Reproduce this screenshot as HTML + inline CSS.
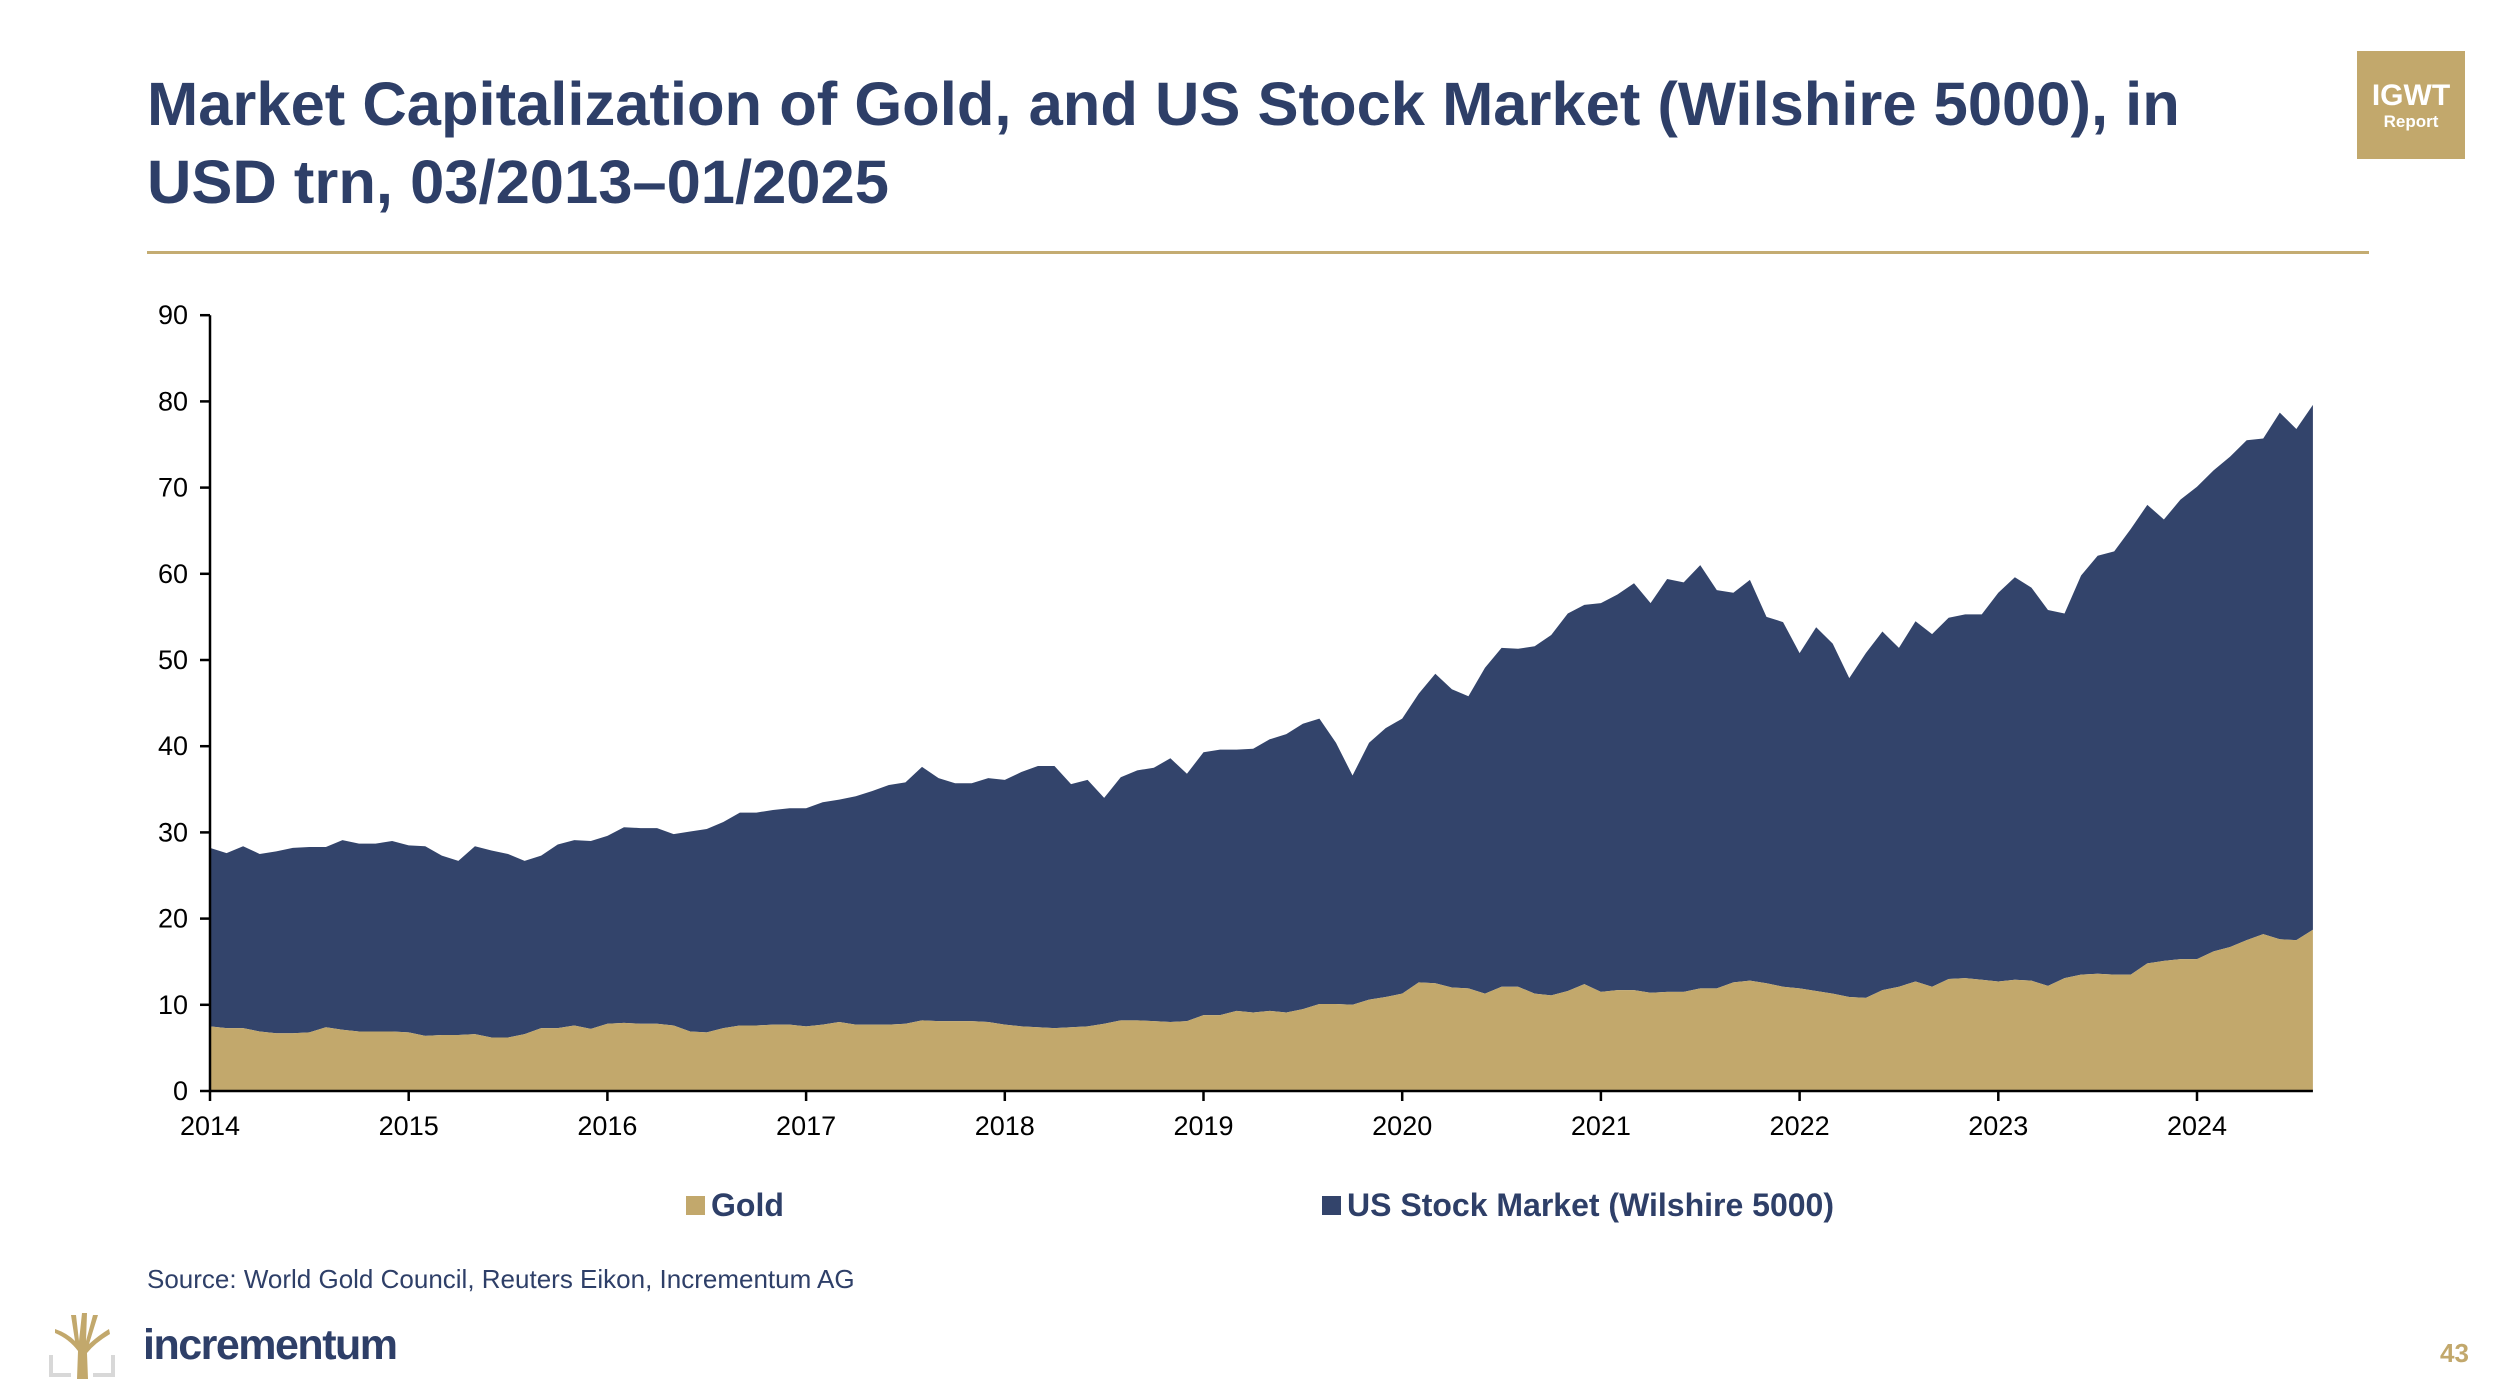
<!DOCTYPE html>
<html><head><meta charset="utf-8">
<style>
html,body{margin:0;padding:0;background:#fff;}
body{width:2500px;height:1397px;position:relative;overflow:hidden;font-family:"Liberation Sans",Arial,sans-serif;}
.abs{position:absolute;}
</style></head>
<body>
<div class="abs" style="left:147px;top:66px;width:2090px;font-size:61.5px;font-weight:bold;color:#2e3f68;line-height:78px;">Market Capitalization of Gold, and US Stock Market (Wilshire 5000), in USD trn, 03/2013–01/2025</div>
<div class="abs" style="left:147px;top:251px;width:2222px;height:3px;background:#c4ac72;"></div>
<div class="abs" style="left:2357px;top:51px;width:108px;height:108px;background:#c2a86c;color:#fff;text-align:center;">
  <div style="font-weight:bold;font-size:30px;margin-top:30px;line-height:30px;">IGWT</div>
  <div style="font-weight:bold;font-size:17px;line-height:22px;">Report</div>
</div>
<svg class="abs" style="left:0;top:0" width="2500" height="1397">
  <g id="plot"></g>
</svg>
<div class="abs" style="left:147px;top:1264px;font-size:26px;color:#2e3f68;">Source: World Gold Council, Reuters Eikon, Incrementum AG</div>
<svg class="abs" style="left:49px;top:1311px" width="66" height="68">
  <path d="M28 68 L29 40 Q20 28 6 22 L6 18 Q18 22 26 30 L22 4 L27 4 L30 30 L33 2 L38 2 L37 30 L44 4 L49 4 L40 33 Q50 24 60 18 L61 23 Q46 32 38 42 L39 68 Z" fill="#c2a86c"/>
  <path d="M0 44 L0 66 L22 66 L22 62 L4 62 L4 44 Z M66 44 L66 66 L44 66 L44 62 L62 62 L62 44 Z" fill="#d8d8d8"/>
</svg>
<div class="abs" style="left:143px;top:1321px;font-size:43px;font-weight:bold;color:#2e3f68;letter-spacing:-1.5px;">incrementum</div>
<div class="abs" style="left:2440px;top:1338px;font-size:26px;font-weight:bold;color:#c2a86c;">43</div>
<script>
const yTicks=[0,10,20,30,40,50,60,70,80,90];
const xYears=[2014,2015,2016,2017,2018,2019,2020,2021,2022,2023,2024];
const gold=[7.5,7.3,7.3,6.9,6.7,6.7,6.8,7.4,7.1,6.9,6.9,6.9,
6.8,6.4,6.5,6.5,6.6,6.2,6.2,6.6,7.3,7.3,7.6,7.2,
7.8,7.9,7.8,7.8,7.6,6.9,6.8,7.3,7.6,7.6,7.7,7.7,
7.5,7.7,8.0,7.7,7.7,7.7,7.8,8.2,8.1,8.1,8.1,8.0,
7.7,7.5,7.4,7.3,7.4,7.5,7.8,8.2,8.2,8.1,8.0,8.1,
8.8,8.8,9.3,9.1,9.3,9.1,9.5,10.1,10.1,10.0,10.6,10.9,
11.3,12.6,12.5,12.0,11.9,11.3,12.1,12.1,11.3,11.1,11.6,12.4,
11.5,11.7,11.7,11.4,11.5,11.5,11.9,11.9,12.6,12.8,12.5,12.1,
11.9,11.6,11.3,10.9,10.8,11.7,12.1,12.7,12.1,13.0,13.1,12.9,
12.7,12.9,12.8,12.2,13.1,13.5,13.6,13.5,13.5,14.8,15.1,15.3,
15.3,16.2,16.7,17.5,18.2,17.6,17.5,18.7];
const stock=[20.7,20.3,21.1,20.6,21.1,21.5,21.5,20.9,22.0,21.8,21.8,22.1,
21.7,22.0,20.8,20.2,21.8,21.7,21.3,20.1,20.0,21.3,21.5,21.8,
21.8,22.7,22.7,22.7,22.2,23.2,23.6,23.9,24.7,24.7,24.9,25.1,
25.3,25.8,25.8,26.5,27.1,27.8,28.0,29.4,28.2,27.6,27.6,28.3,
28.4,29.5,30.3,30.4,28.2,28.6,26.2,28.2,29.0,29.4,30.6,28.7,
30.5,30.8,30.3,30.6,31.5,32.3,33.1,33.1,30.3,26.6,29.8,31.2,
31.9,33.5,35.9,34.6,33.9,37.8,39.3,39.2,40.3,41.8,43.8,44.0,
45.1,45.9,47.2,45.2,47.9,47.5,49.1,46.2,45.2,46.5,42.5,42.3,
38.9,42.2,40.6,37.0,40.0,41.6,39.3,41.8,40.9,41.9,42.2,42.4,
45.1,46.7,45.6,43.6,42.3,46.3,48.5,49.1,51.7,53.2,51.2,53.3,
54.8,55.8,56.9,58.0,57.5,61.1,59.3,60.9];
const startYear=2014;

(function(){
const NS='http://www.w3.org/2000/svg';
const g=document.getElementById('plot');
const X0=210,PX_YEAR=198.7,Y0=1091,PX_UNIT=8.62;
const xs=i=>X0+(i/12)*PX_YEAR;
const xy=yr=>X0+(yr-startYear)*PX_YEAR;
const ys=v=>Y0-v*PX_UNIT;
function mk(tag,attrs){const e=document.createElementNS(NS,tag);for(const k in attrs)e.setAttribute(k,attrs[k]);g.appendChild(e);return e;}

const upper=[],lower=[];
for(let i=0;i<gold.length;i++){upper.push(xs(i)+','+ys(gold[i]+stock[i]));lower.push(xs(i)+','+ys(gold[i]));}
const sa=mk('polygon',{points:upper.concat(lower.slice().reverse()).join(' '),fill:'#33446b'});


const gp=[];
for(let i=0;i<gold.length;i++)gp.push(xs(i)+','+ys(gold[i]));
gp.push(xs(gold.length-1)+','+ys(0));gp.push(xs(0)+','+ys(0));
const ga=mk('polygon',{points:gp.join(' '),fill:'#c2a86c'});



const ya=mk('line',{x1:X0,y1:ys(90),x2:X0,y2:Y0,stroke:'#000','stroke-width':2.5});


const xa=mk('line',{x1:X0,y1:Y0,x2:xs(gold.length-1),y2:Y0,stroke:'#000','stroke-width':2.5});


yTicks.forEach(v=>{
  mk('line',{x1:X0-10,y1:ys(v),x2:X0,y2:ys(v),stroke:'#000','stroke-width':2.5});
  const t=mk('text',{x:X0-22,y:ys(v)+9,'text-anchor':'end','font-size':27,fill:'#000','font-family':'Liberation Sans, Arial, sans-serif'});
  t.textContent=v;
  
  
});
xYears.forEach(yr=>{
  mk('line',{x1:xy(yr),y1:Y0,x2:xy(yr),y2:Y0+10,stroke:'#000','stroke-width':2.5});
  const t=mk('text',{x:xy(yr),y:Y0+44,'text-anchor':'middle','font-size':27,fill:'#000','font-family':'Liberation Sans, Arial, sans-serif'});
  t.textContent=yr;
  
  
});
const l1=mk('rect',{x:686,y:1196,width:19,height:19,fill:'#c2a86c'});


const t1=mk('text',{x:711,y:1216,'font-size':32,'font-weight':'bold',fill:'#2e3f68','font-family':'Liberation Sans, Arial, sans-serif'});
t1.textContent='Gold';


const l2=mk('rect',{x:1322,y:1196,width:19,height:19,fill:'#33446b'});


const t2=mk('text',{x:1347,y:1216,'font-size':32,'font-weight':'bold',fill:'#2e3f68','font-family':'Liberation Sans, Arial, sans-serif'});
t2.textContent='US Stock Market (Wilshire 5000)';


})();
</script>
</body></html>
